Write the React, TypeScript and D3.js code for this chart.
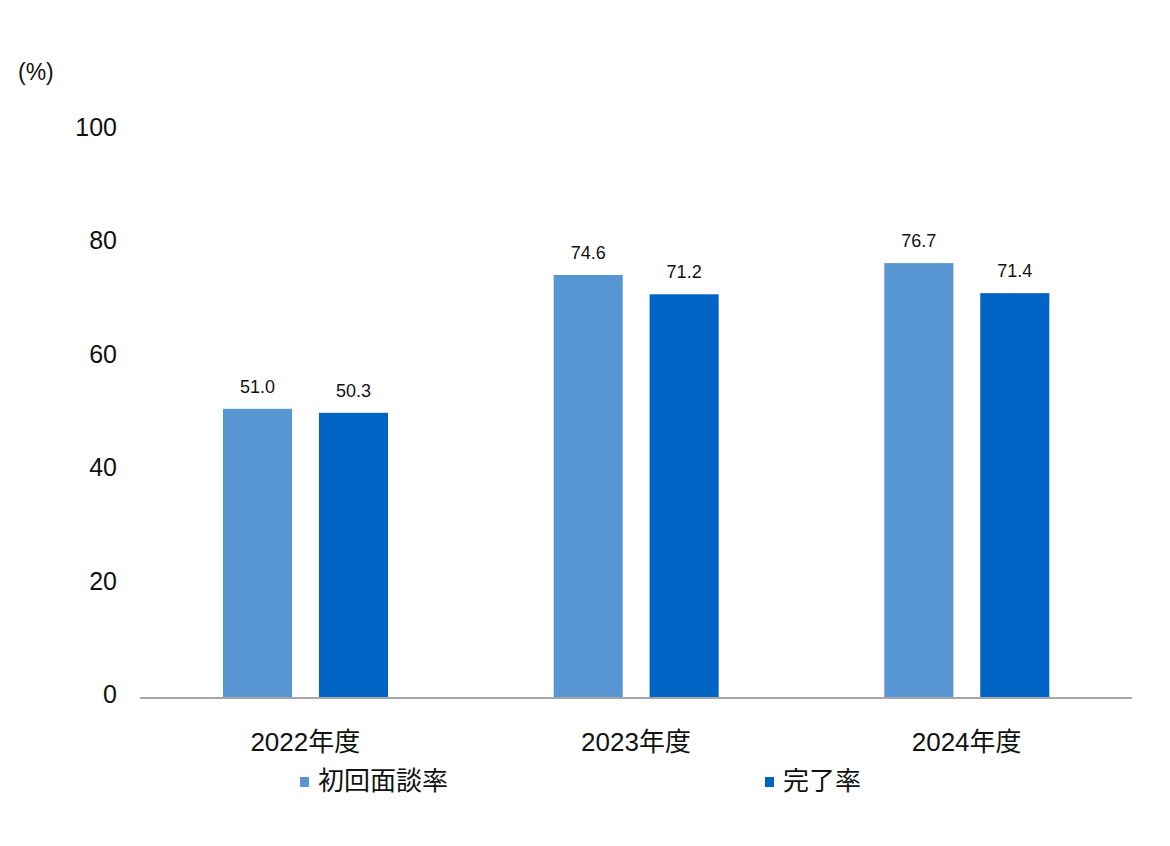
import React from 'react';
import * as d3 from 'd3';

// chart values
const categories = ['2022年度', '2023年度', '2024年度'];
const seriesNames = ['初回面談率', '完了率'];
const firstMeetingRate = [51.0, 74.6, 76.7];
const completionRate = [50.3, 71.2, 71.4];
const yTicks = [0, 20, 40, 60, 80, 100];

const colors = ['#5796D3', '#0064C4'];
const font = '"Liberation Sans", Arial, "Noto Sans CJK JP", sans-serif';

const width = 1170;
const height = 846;

const App: React.FC = () => {
  const x = d3.scaleBand<string>().domain(categories).range([140, 1132]).padding(0);
  const inner = d3
    .scaleBand<string>()
    .domain(seriesNames)
    .range([83, 248])
    .paddingInner(0.28);
  const y = d3.scaleLinear().domain([0, 100]).range([698, 131]);

  const series = [firstMeetingRate, completionRate];

  return (
    <div style={{ position: 'absolute', left: 0, top: 0 }}>
      <svg width={width} height={height} style={{ display: 'block', background: '#fff' }}>
        <text x={18} y={80} fontSize={23} fontFamily={font} fill="#111">
          (%)
        </text>

        {/* y ticks */}
        <g fontFamily={font} fontSize={25} fill="#111" textAnchor="end">
          {yTicks.map(t => (
            <text key={t} x={117} y={y(t) - 3} dy="0.32em">
              {t}
            </text>
          ))}
        </g>

        {/* bars */}
        {categories.map((c, i) => (
          <g key={c} transform={`translate(${x(c)},0)`}>
            {series.map((vals, s) => {
              const bx = inner(seriesNames[s])!;
              const v = vals[i];
              return (
                <g key={s}>
                  <rect
                    x={bx}
                    y={y(v)}
                    width={inner.bandwidth()}
                    height={y(0) - y(v)}
                    fill={colors[s]}
                  />
                  <text
                    x={bx + inner.bandwidth() / 2}
                    y={y(v) - 16}
                    textAnchor="middle"
                    fontFamily={font}
                    fontSize={18}
                    fill="#111"
                  >
                    {v.toFixed(1)}
                  </text>
                </g>
              );
            })}
          </g>
        ))}

        {/* x axis line */}
        <line x1={140} x2={1132} y1={y(0)} y2={y(0)} stroke="#A6A6A6" strokeWidth={2} />

        {/* category labels */}
        <g fontFamily={font} fontSize={26} fill="#111" textAnchor="middle">
          {categories.map(c => (
            <text key={c} x={x(c)! + x.bandwidth() / 2} y={751}>
              {c}
            </text>
          ))}
        </g>

        {/* legend */}
        {seriesNames.map((name, s) => {
          const lx = [300, 765][s];
          return (
            <g key={name} transform={`translate(${lx},777)`}>
              <rect width={9} height={10} fill={colors[s]} />
              <text x={18} y={13} fontFamily={font} fontSize={26} fill="#111">
                {name}
              </text>
            </g>
          );
        })}
      </svg>
    </div>
  );
};

export default App;
